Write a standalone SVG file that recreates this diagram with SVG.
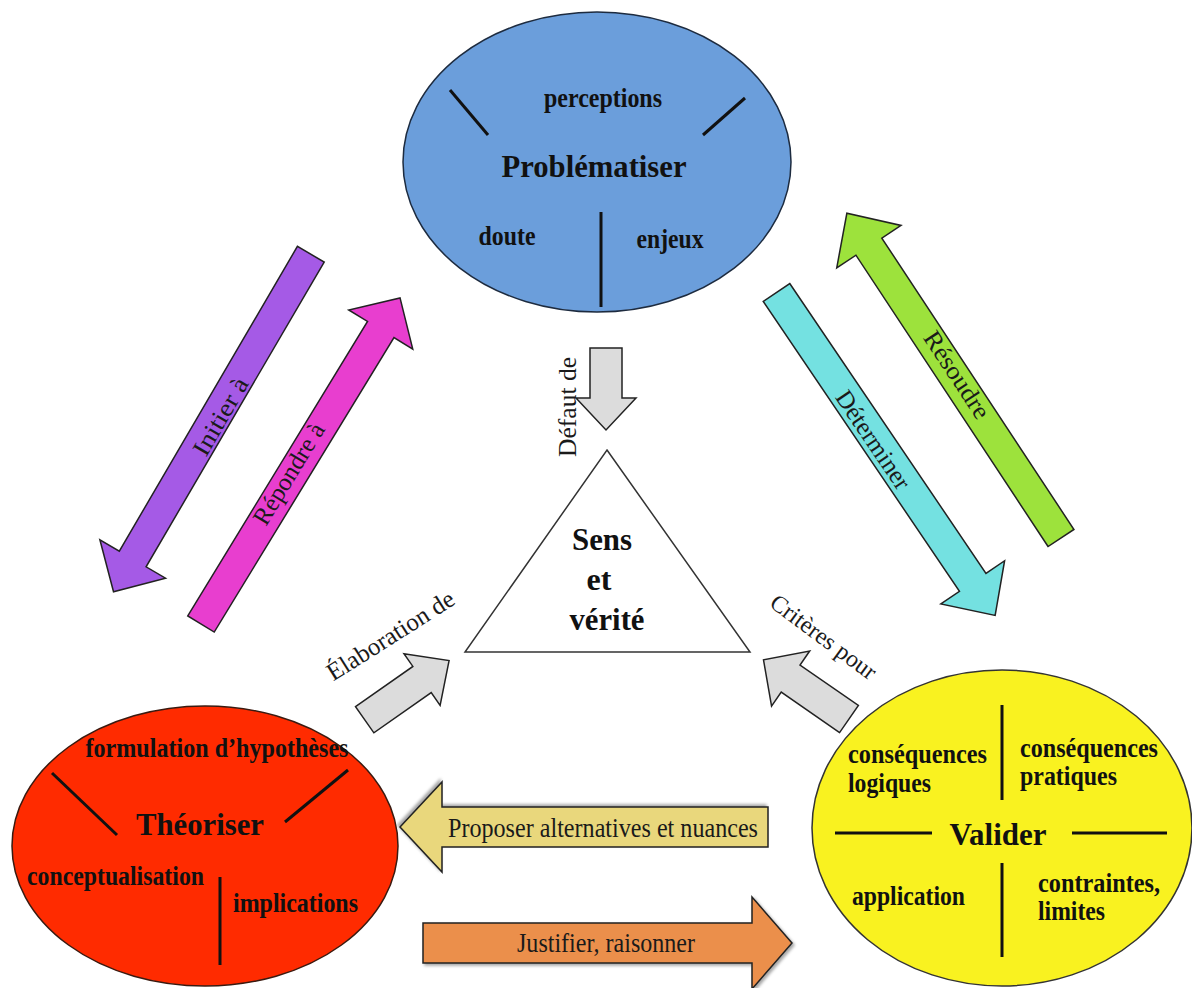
<svg xmlns="http://www.w3.org/2000/svg" width="1192" height="988" viewBox="0 0 1192 988">
  <defs>
    <style>
      .title { font-family: "Liberation Serif", "Times New Roman", serif; font-weight: bold; font-size: 32px; fill: #111; text-anchor: middle; }
      .item { font-family: "Liberation Serif", "Times New Roman", serif; font-weight: bold; font-size: 28px; fill: #111; }
      .mid { text-anchor: middle; }
      .lbl { font-family: "Liberation Serif", "Times New Roman", serif; font-size: 25px; fill: #1a1a1a; text-anchor: middle; }
      .div { stroke: #111; stroke-width: 3; stroke-linecap: butt; }
      .arrow { stroke: #222; stroke-width: 1.5; stroke-linejoin: miter; }
    </style>
    <filter id="shadow" x="-10%" y="-20%" width="120%" height="150%">
      <feDropShadow dx="2" dy="2" stdDeviation="1.5" flood-color="#000" flood-opacity="0.35"/>
    </filter>
  </defs>

  <rect width="1192" height="988" fill="#ffffff"/>

  <!-- connectors: block arrows with their labels -->
  <g id="connectors">
    <!-- Problématiser -> Théoriser -->
    <polygon class="arrow" fill="#a55ae6" transform="translate(310.8,254.2) rotate(120.3)"
             points="0,-15.5 353,-15.5 353,-38 391,0 353,38 353,15.5 0,15.5"/>
    <text class="lbl" transform="translate(220.7,416.7) rotate(-59.7)" y="8" textLength="86" lengthAdjust="spacingAndGlyphs">Initier à</text>

    <!-- Théoriser -> Problématiser -->
    <polygon class="arrow" fill="#e83ecf" transform="translate(201,624) rotate(-58.6)"
             points="0,-15.5 345,-15.5 345,-37.5 382,0 345,37.5 345,15.5 0,15.5"/>
    <text class="lbl" transform="translate(289,474) rotate(-58.6)" y="8">Répondre à</text>

    <!-- Problématiser -> Valider -->
    <polygon class="arrow" fill="#74e1e1" transform="translate(776.5,292.5) rotate(55.9)"
             points="0,-16 350,-16 350,-38.5 390,0 350,38.5 350,16 0,16"/>
    <text class="lbl" transform="translate(873,440) rotate(55.9)" y="8">Déterminer</text>

    <!-- Valider -> Problématiser -->
    <polygon class="arrow" fill="#9de23c" transform="translate(1061,538) rotate(-123.4)"
             points="0,-15.5 349,-15.5 349,-38.5 389,0 349,38.5 349,15.5 0,15.5"/>
    <text class="lbl" transform="translate(956.7,375) rotate(56.6)" y="8" textLength="100" lengthAdjust="spacingAndGlyphs">Résoudre</text>

    <!-- towards Sens et vérité -->
    <polygon class="arrow" fill="#dcdcdc" transform="translate(606,348) rotate(90)"
             points="0,-16 50,-16 50,-30 82,0 50,30 50,16 0,16"/>
    <text class="lbl" transform="translate(576,407) rotate(-90)" y="0" textLength="100" lengthAdjust="spacingAndGlyphs">Défaut de</text>

    <polygon class="arrow" fill="#dcdcdc" transform="translate(364.7,719.7) rotate(-35)"
             points="0,-16 70,-16 70,-31.5 103,0 70,31.5 70,16 0,16"/>
    <text class="lbl" transform="translate(395,642.5) rotate(-32.4)" y="0" textLength="146" lengthAdjust="spacingAndGlyphs">Élaboration de</text>

    <polygon class="arrow" fill="#dcdcdc" transform="translate(849,719) rotate(-145.3)"
             points="0,-16.5 71,-16.5 71,-33.5 104,0 71,33.5 71,16.5 0,16.5"/>
    <text class="lbl" transform="translate(818.8,643.3) rotate(36.5)" y="0" style="font-size:24px">Critères pour</text>

    <!-- Valider -> Théoriser -->
    <polygon class="arrow" fill="#e9d77b" filter="url(#shadow)" transform="translate(768,827) rotate(180)"
             points="0,-20 326,-20 326,-45 368,0 326,45 326,20 0,20"/>
    <text class="lbl" x="603" y="837" style="font-size:28px" textLength="310" lengthAdjust="spacingAndGlyphs">Proposer alternatives et nuances</text>

    <!-- Théoriser -> Valider -->
    <polygon class="arrow" fill="#eb8f4c" filter="url(#shadow)" transform="translate(423,943)"
             points="0,-20 329,-20 329,-46 369,0 329,46 329,20 0,20"/>
    <text class="lbl" x="606" y="952" style="font-size:28px" textLength="178" lengthAdjust="spacingAndGlyphs">Justifier, raisonner</text>
  </g>

  <!-- Problématiser -->
  <g id="problematiser">
    <ellipse cx="597" cy="162" rx="194" ry="150" fill="#6b9edb" stroke="#1d2b3f" stroke-width="1.5"/>
    <line class="div" x1="450" y1="90" x2="488" y2="135"/>
    <line class="div" x1="745" y1="98" x2="703" y2="135"/>
    <line class="div" x1="601" y1="212" x2="601" y2="307"/>
    <text class="item mid" x="603" y="107" textLength="118" lengthAdjust="spacingAndGlyphs">perceptions</text>
    <text class="title" x="594" y="177" textLength="185" lengthAdjust="spacingAndGlyphs">Problématiser</text>
    <text class="item mid" x="507" y="245" textLength="57" lengthAdjust="spacingAndGlyphs">doute</text>
    <text class="item mid" x="670" y="248" textLength="67" lengthAdjust="spacingAndGlyphs">enjeux</text>
  </g>

  <!-- Théoriser -->
  <g id="theoriser">
    <ellipse cx="205" cy="846" rx="193" ry="140" fill="#ff2b00" stroke="#3a1a10" stroke-width="1.5"/>
    <line class="div" x1="52" y1="773" x2="117" y2="835"/>
    <line class="div" x1="348" y1="770" x2="285" y2="822"/>
    <line class="div" x1="220" y1="877" x2="220" y2="965"/>
    <text class="item mid" x="217" y="757" textLength="263" lengthAdjust="spacingAndGlyphs">formulation d’hypothèses</text>
    <text class="title" x="200" y="835" textLength="128" lengthAdjust="spacingAndGlyphs">Théoriser</text>
    <text class="item" x="27" y="885" textLength="177" lengthAdjust="spacingAndGlyphs">conceptualisation</text>
    <text class="item" x="233" y="912" textLength="125" lengthAdjust="spacingAndGlyphs">implications</text>
  </g>

  <!-- Valider -->
  <g id="valider">
    <ellipse cx="1002" cy="828" rx="190" ry="158" fill="#f9f220" stroke="#333" stroke-width="1.5"/>
    <line class="div" x1="1002" y1="705" x2="1002" y2="800"/>
    <line class="div" x1="1002" y1="863" x2="1002" y2="957"/>
    <line class="div" x1="835" y1="833" x2="932" y2="833"/>
    <line class="div" x1="1072" y1="833" x2="1167" y2="833"/>
    <text class="item" x="848" y="763" textLength="139" lengthAdjust="spacingAndGlyphs">conséquences</text>
    <text class="item" x="848" y="792" textLength="83" lengthAdjust="spacingAndGlyphs">logiques</text>
    <text class="item" x="1020" y="757" textLength="138" lengthAdjust="spacingAndGlyphs">conséquences</text>
    <text class="item" x="1020" y="785" textLength="97" lengthAdjust="spacingAndGlyphs">pratiques</text>
    <text class="title" x="998" y="845" textLength="97" lengthAdjust="spacingAndGlyphs">Valider</text>
    <text class="item" x="852" y="905" textLength="113" lengthAdjust="spacingAndGlyphs">application</text>
    <text class="item" x="1038" y="892" textLength="122" lengthAdjust="spacingAndGlyphs">contraintes,</text>
    <text class="item" x="1038" y="920" textLength="67" lengthAdjust="spacingAndGlyphs">limites</text>
  </g>

  <!-- Sens et vérité -->
  <g id="sens-verite">
    <polygon points="607,450 750,652 465,652" fill="#ffffff" stroke="#333" stroke-width="1.5"/>
    <text class="title" x="602" y="550" textLength="60" lengthAdjust="spacingAndGlyphs">Sens</text>
    <text class="title" x="599" y="590">et</text>
    <text class="title" x="607" y="630" textLength="75" lengthAdjust="spacingAndGlyphs">vérité</text>
  </g>
</svg>
